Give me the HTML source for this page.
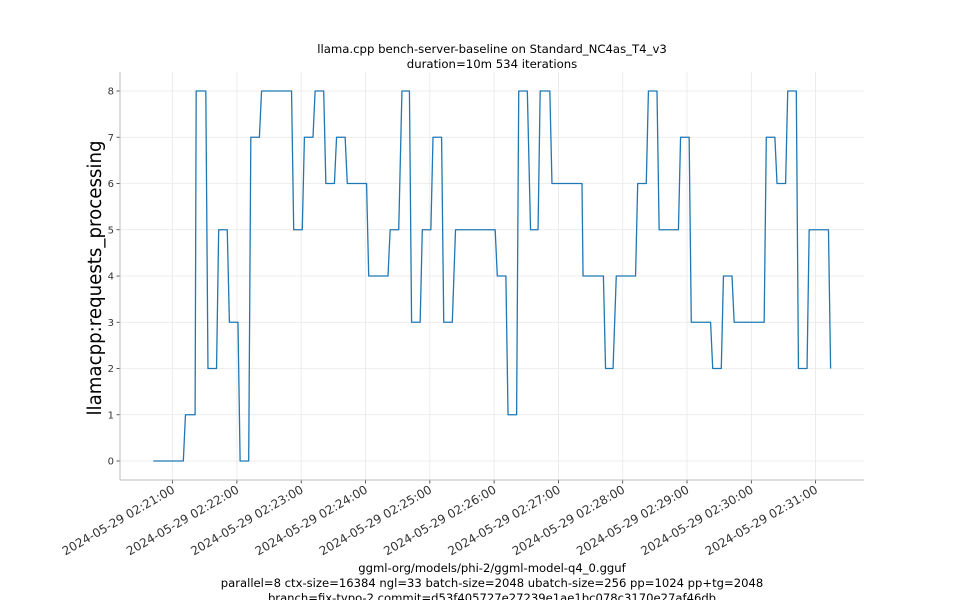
<!DOCTYPE html>
<html><head><meta charset="utf-8">
<style>
html,body{margin:0;padding:0;background:#fff;}
svg{display:block;font-family:"DejaVu Sans","Liberation Sans",sans-serif;}
</style></head>
<body>
<svg id="chart" width="960" height="600" viewBox="0 0 960 600" xmlns="http://www.w3.org/2000/svg">
<rect width="960" height="600" fill="#fff"/>
<g id="grid"></g>
<g id="axes"></g>
<g id="series"></g>
<text x="492" y="53" font-size="11.7" text-anchor="middle" fill="#000">llama.cpp bench-server-baseline on Standard_NC4as_T4_v3</text>
<text x="492" y="68" font-size="11.7" text-anchor="middle" fill="#000">duration=10m 534 iterations</text>
<text transform="translate(101,278) rotate(-90)" font-size="18.2" text-anchor="middle" fill="#000">llamacpp:requests_processing</text>
<text x="492" y="572" font-size="11.6" text-anchor="middle" fill="#000">ggml-org/models/phi-2/ggml-model-q4_0.gguf</text>
<text x="492" y="587" font-size="11.6" text-anchor="middle" fill="#000">parallel=8 ctx-size=16384 ngl=33 batch-size=2048 ubatch-size=256 pp=1024 pp+tg=2048</text>
<text x="492" y="602" font-size="11.6" text-anchor="middle" fill="#000">branch=fix-typo-2 commit=d53f405727e27239e1ae1bc078c3170e27af46db</text>
</svg>
<script>
// seconds after 02:20:00
const times = [42,70,72,81,82,91,93,101,103,111,113,121,123,131,133,141,143,171,173,181,183,191,193,201,203,211,213,221,223,241,243,261,263,271,274,281,283,291,293,301,303,311,313,321,324,361,363,371,373,381,383,391,394,401,403,412,414,442,443,462,464,471,474,492,494,502,504,512,514,532,534,542,544,562,564,572,574,582,584,612,614,622,624,632,634,642,644,652,654,672,674];
const values = [0,0,1,1,8,8,2,2,5,5,3,3,0,0,7,7,8,8,5,5,7,7,8,8,6,6,7,7,6,6,4,4,5,5,8,8,3,3,5,5,7,7,3,3,5,5,4,4,1,1,8,8,5,5,8,8,6,6,4,4,2,2,4,4,6,6,8,8,5,5,7,7,3,3,2,2,4,4,3,3,7,7,6,6,8,8,2,2,5,5,2];
const yTicks = [0,1,2,3,4,5,6,7,8];
const xTickSeconds = [60,120,180,240,300,360,420,480,540,600,660];
const xTickLabels = ["2024-05-29 02:21:00","2024-05-29 02:22:00","2024-05-29 02:23:00","2024-05-29 02:24:00","2024-05-29 02:25:00","2024-05-29 02:26:00","2024-05-29 02:27:00","2024-05-29 02:28:00","2024-05-29 02:29:00","2024-05-29 02:30:00","2024-05-29 02:31:00"];

const NS="http://www.w3.org/2000/svg";
const L=120,R=864,T=72,B=480;
const xs=t=>172.6+(t-60)*(64.3/60);
const ys=v=>461-v*46.25;
function mk(tag,attrs,parent){const e=document.createElementNS(NS,tag);for(const k in attrs)e.setAttribute(k,attrs[k]);parent.appendChild(e);return e;}
const grid=document.getElementById('grid'),axes=document.getElementById('axes'),series=document.getElementById('series');

yTicks.forEach(v=>{
  const y=ys(v);
  const g=mk('line',{x1:L,x2:R,y1:y,y2:y,stroke:'#e8e8e8','stroke-width':0.8},grid);
  
  
  const tk=mk('line',{x1:L-3.5,x2:L,y1:y,y2:y,stroke:'#333','stroke-width':0.8},axes);
  
  
  const tx=mk('text',{x:L-6,y:y+3.5,'font-size':10,'text-anchor':'end',fill:'#333'},axes);
  tx.textContent=v;
  
  
});
xTickSeconds.forEach((s,i)=>{
  const x=xs(s);
  const g=mk('line',{x1:x,x2:x,y1:T,y2:B,stroke:'#e8e8e8','stroke-width':0.8},grid);
  
  
  const tk=mk('line',{x1:x,x2:x,y1:B,y2:B+3.5,stroke:'#333','stroke-width':0.8},axes);
  
  
  const tx=mk('text',{transform:`translate(${x+3},${B+12}) rotate(-30)`,'font-size':12,'text-anchor':'end',fill:'#333'},axes);
  tx.textContent=xTickLabels[i];
  
  
});
const ls=mk('line',{x1:L,x2:L,y1:T,y2:B,stroke:'#bbb','stroke-width':1},axes);


const bs=mk('line',{x1:L,x2:R,y1:B,y2:B,stroke:'#bbb','stroke-width':1},axes);



const pts=times.map((t,i)=>xs(t).toFixed(2)+','+ys(values[i]).toFixed(2)).join(' ');
const pl=mk('polyline',{points:pts,fill:'none',stroke:'#1f77b4','stroke-width':1.3,'stroke-linejoin':'round'},series);


</script>
</body></html>
